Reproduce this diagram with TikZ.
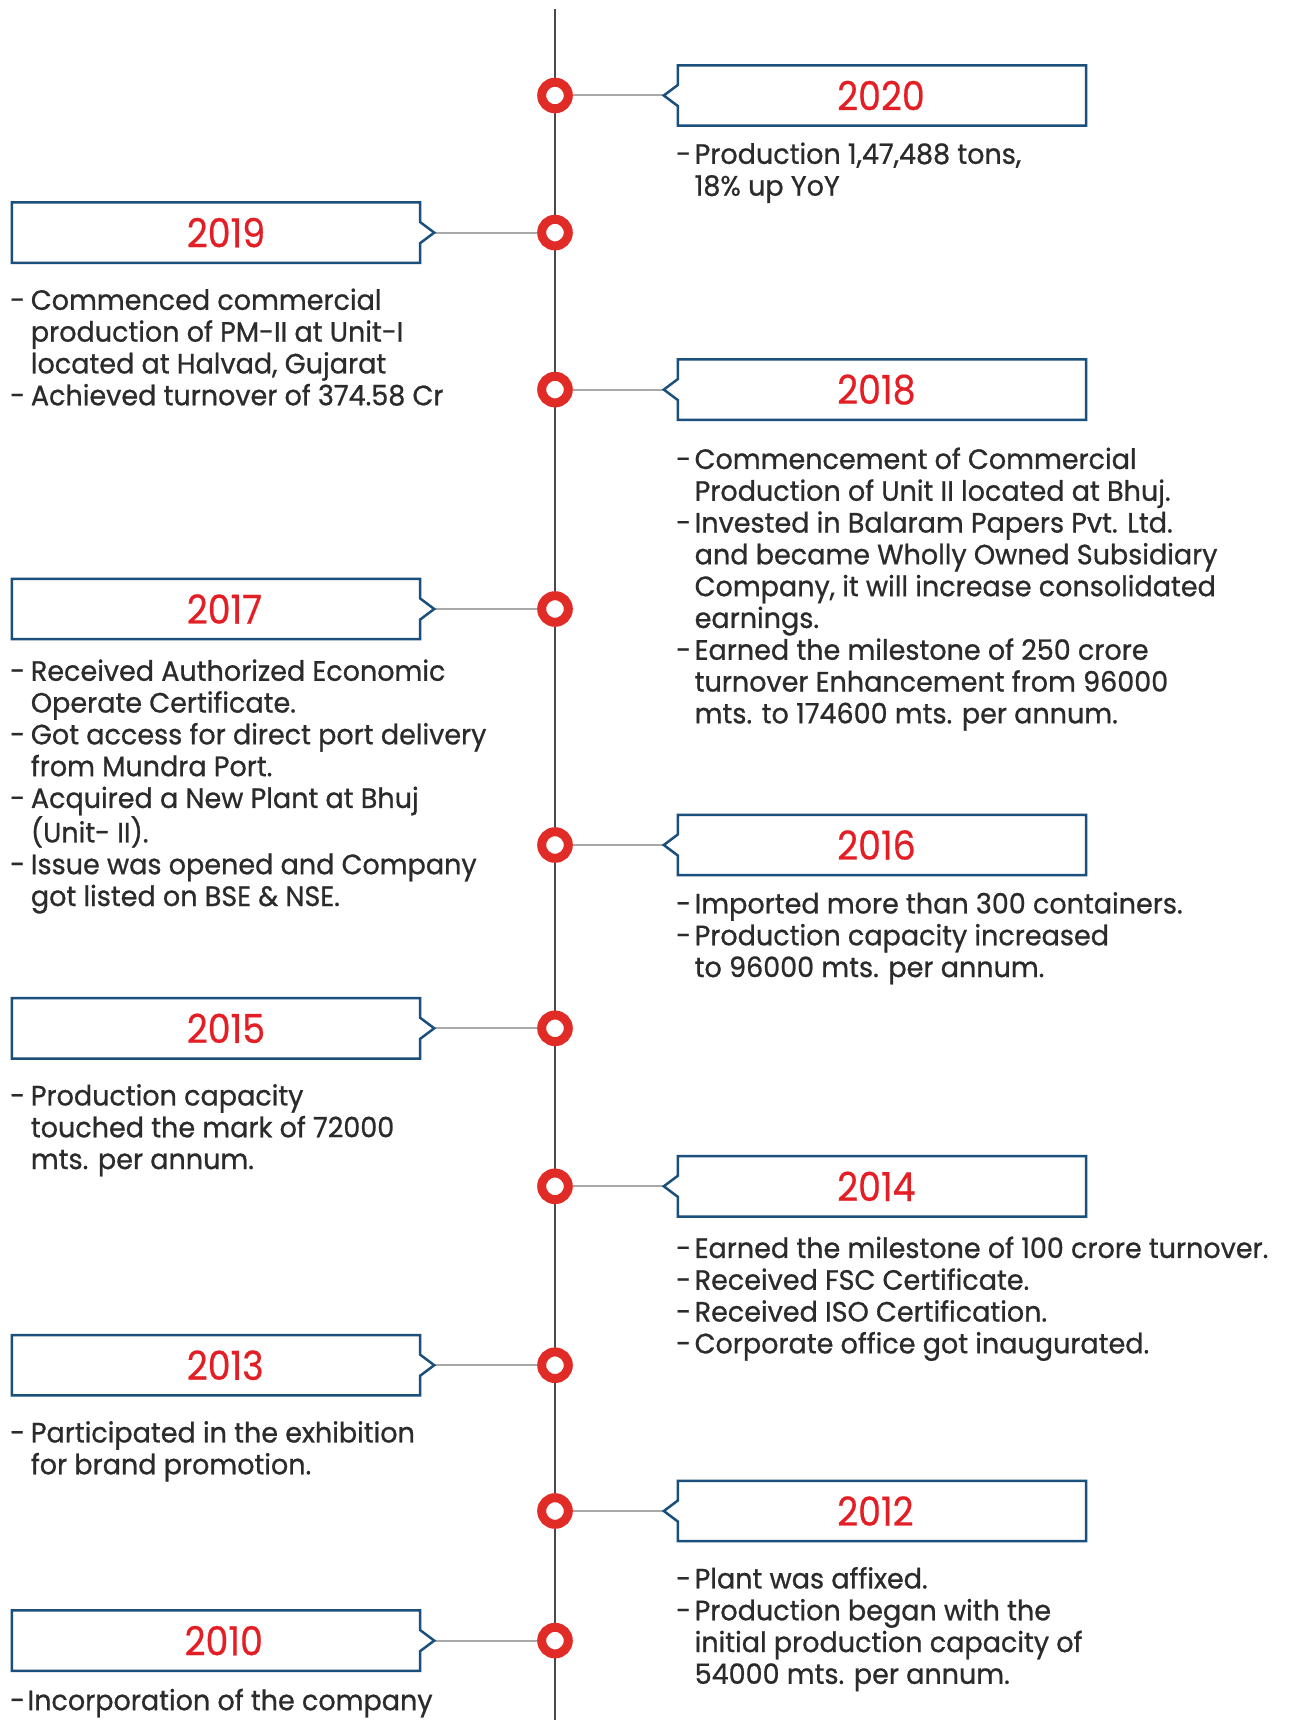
\documentclass[tikz,border=0pt]{standalone}
\usepackage{fontspec}
\setmainfont{Poppins}[FakeStretch=0.965,FakeBold=0.8]
\newfontfamily\yearfont{Poppins}[FakeStretch=0.91,FakeBold=0.5]
\usetikzlibrary{calc}
\definecolor{ringred}{HTML}{E02B27}
\definecolor{yearred}{HTML}{E31E24}
\definecolor{boxblue}{HTML}{1B4F7C}
\definecolor{txtgray}{HTML}{2B2B2B}
\definecolor{axisgray}{HTML}{4A4A4A}
\definecolor{conngray}{HTML}{A8A8A8}
\pgfdeclarelayer{bg}\pgfsetlayers{bg,main}
\newcommand\bdashR{\makebox[18.5pt][l]{-}}
\newcommand\bindR{\hspace*{18.5pt}}
\newcommand\bdashL{\makebox[20.7pt][l]{-}}
\newcommand\bindL{\hspace*{20.7pt}}
\tikzset{
 ring/.style={circle, draw=ringred, line width=9pt, fill=white, minimum size=26.6pt, inner sep=0pt},
 yearbox/.style={minimum width=408pt, minimum height=60pt, inner sep=0pt},
 yeartext/.style={text=yearred, font=\yearfont\fontsize{40}{40}\selectfont, inner sep=0pt, anchor=west},
 boxline/.style={draw=boxblue, line width=2.5pt, line join=miter},
 bullets/.style={text=txtgray, font=\fontsize{28}{31.8}\selectfont, align=left, anchor=north west, inner sep=0pt},
 axisline/.style={draw=axisgray, line width=2.4pt},
 connline/.style={draw=conngray, line width=2pt},
}
% right box: notch on west side
\newcommand\rightbox[2]{%
 \coordinate (#1tip) at ($(#1.west)+(-14,0)$);
 \draw[boxline] ($(#1.west)+(0,-10.5)$) -- (#1.north west) -- (#1.north east) -- (#1.south east) -- (#1.south west) -- ($(#1.west)+(0,10.5)$) -- (#1tip) -- cycle;
 \begin{pgfonlayer}{bg}\draw[connline] (#2) -- (#1tip);\end{pgfonlayer}}
% left box: notch on east side
\newcommand\leftbox[2]{%
 \coordinate (#1tip) at ($(#1.east)+(14,0)$);
 \draw[boxline] ($(#1.east)+(0,-10.5)$) -- (#1.north east) -- (#1.north west) -- (#1.south west) -- (#1.south east) -- ($(#1.east)+(0,10.5)$) -- (#1tip) -- cycle;
 \begin{pgfonlayer}{bg}\draw[connline] (#2) -- (#1tip);\end{pgfonlayer}}
\begin{document}
\begin{tikzpicture}[x=1pt,y=-1pt]
\useasboundingbox (0,0) rectangle (1296,1720);
\coordinate (axtop) at (555,9);
\coordinate (axbot) at (555,1720);
\begin{pgfonlayer}{bg}
\fill[white] (0,0) rectangle (1296,1720);
\draw[axisline] (axtop) -- (axbot);
\end{pgfonlayer}

% circles
\node[ring] (c2020) at (555,95.5) {};
\node[ring] (c2019) at (555,232.6) {};
\node[ring] (c2018) at (555,389.6) {};
\node[ring] (c2017) at (555,609) {};
\node[ring] (c2016) at (555,845) {};
\node[ring] (c2015) at (555,1028.3) {};
\node[ring] (c2014) at (555,1186.3) {};
\node[ring] (c2013) at (555,1365.2) {};
\node[ring] (c2012) at (555,1511) {};
\node[ring] (c2010) at (555,1640.6) {};

% boxes
\node[yearbox] (b2020) at (882,95.5) {};
\node[yearbox] (b2019) at (216,232.6) {};
\node[yearbox] (b2018) at (882,389.6) {};
\node[yearbox] (b2017) at (216,609) {};
\node[yearbox] (b2016) at (882,845) {};
\node[yearbox] (b2015) at (216,1028.3) {};
\node[yearbox] (b2014) at (882,1186.3) {};
\node[yearbox] (b2013) at (216,1365.2) {};
\node[yearbox] (b2012) at (882,1511) {};
\node[yearbox] (b2010) at (216,1640.6) {};
\rightbox{b2020}{c2020}
\leftbox{b2019}{c2019}
\rightbox{b2018}{c2018}
\leftbox{b2017}{c2017}
\rightbox{b2016}{c2016}
\leftbox{b2015}{c2015}
\rightbox{b2014}{c2014}
\leftbox{b2013}{c2013}
\rightbox{b2012}{c2012}
\leftbox{b2010}{c2010}

% years
\node[yeartext] (y2020) at (837,95.5) {2020};
\node[yeartext] (y2019) at (186.6,232.6) {2019};
\node[yeartext] (y2018) at (837,389.6) {2018};
\node[yeartext] (y2017) at (186.6,609) {2017};
\node[yeartext] (y2016) at (837,845) {2016};
\node[yeartext] (y2015) at (186.6,1028.3) {2015};
\node[yeartext] (y2014) at (837,1186.3) {2014};
\node[yeartext] (y2013) at (186.6,1365.2) {2013};
\node[yeartext] (y2012) at (837,1511) {2012};
\node[yeartext] (y2010) at (184.4,1640.6) {2010};

% bullet texts
\node[bullets] (t2020) at (676,141.4) {\strut\bdashR Production 1,47,488 tons,\\ \bindR 18\% up YoY};
\node[bullets] (t2019) at (10,287.4) {\strut\bdashL Commenced commercial\\ \bindL production of PM-II at Unit-I\\ \bindL located at Halvad, Gujarat\\ \bdashL Achieved turnover of 374.58 Cr};
\node[bullets] (t2018) at (676,446.5) {\strut\bdashR Commencement of Commercial\\ \bindR Production of Unit II located at Bhuj.\\ \bdashR Invested in Balaram Papers Pvt. Ltd.\\ \bindR and became Wholly Owned Subsidiary\\ \bindR Company, it will increase consolidated\\ \bindR earnings.\\ \bdashR Earned the milestone of 250 crore\\ \bindR turnover Enhancement from 96000\\ \bindR mts. to 174600 mts. per annum.};
\node[bullets] (t2017) at (10,658.3) {\strut\bdashL Received Authorized Economic\\ \bindL Operate Certificate.\\ \bdashL Got access for direct port delivery\\ \bindL from Mundra Port.\\ \bdashL Acquired a New Plant at Bhuj\\ \bindL (Unit- II).\\ \bdashL Issue was opened and Company\\ \bindL got listed on BSE \& NSE.};
\node[bullets] (t2016) at (676,891) {\strut\bdashR Imported more than 300 containers.\\ \bdashR Production capacity increased\\ \bindR to 96000 mts. per annum.};
\node[bullets] (t2015) at (10,1083) {\strut\bdashL Production capacity\\ \bindL touched the mark of 72000\\ \bindL mts. per annum.};
\node[bullets] (t2014) at (676,1235.5) {\strut\bdashR Earned the milestone of 100 crore turnover.\\ \bdashR Received FSC Certificate.\\ \bdashR Received ISO Certification.\\ \bdashR Corporate office got inaugurated.};
\node[bullets] (t2013) at (10,1420) {\strut\bdashL Participated in the exhibition\\ \bindL for brand promotion.};
\node[bullets] (t2012) at (676,1566) {\strut\bdashR Plant was affixed.\\ \bdashR Production began with the\\ \bindR initial production capacity of\\ \bindR 54000 mts. per annum.};
\node[bullets] (t2010) at (10,1687.7) {\strut\makebox[17.4pt][l]{-}Incorporation of the company};
\end{tikzpicture}
\end{document}
